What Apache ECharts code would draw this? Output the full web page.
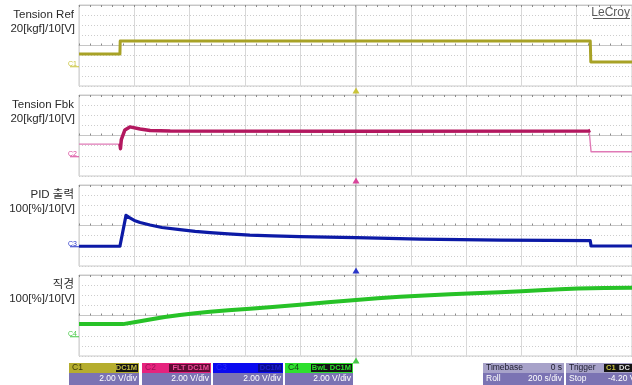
<!DOCTYPE html>
<html><head><meta charset="utf-8">
<script src="https://cdn.jsdelivr.net/npm/echarts@6/dist/echarts.min.js"></script>
<style>html,body{margin:0;padding:0;background:#fff;}#c{width:632px;height:385px;}</style>
</head><body><div id="c"></div>
<script>
// ---------- DATA (time in s, level in V above each channel's ground marker) ----------
const refT = [0, 148, 149, 1849, 1851, 2000];
const refV = [2.3, 2.3, 4.9, 4.9, 0.75, 0.75];

const fbkT = [0, 148, 150, 153, 166, 184, 221, 257, 330, 1000, 1845, 1849, 1852, 2000];
const fbkV = [2.3, 2.3, 1.4, 3.2, 5.1, 5.7, 5.3, 5.0, 4.9, 4.85, 4.9, 5.0, 0.8, 0.8];

const pidT = [0, 148, 170, 184, 200, 221, 257, 300, 365, 420, 474, 540, 618, 700, 799, 900, 1002, 1120, 1233, 1380, 1523, 1700, 1849, 1852, 2000];
const pidV = [-0.1, -0.1, 6.0, 5.5, 5.0, 4.6, 4.1, 3.6, 3.2, 2.85, 2.6, 2.35, 2.1, 1.95, 1.8, 1.7, 1.6, 1.45, 1.3, 1.2, 1.1, 1.05, 1.0, -0.05, -0.05];

const diaT = [0, 159, 200, 257, 310, 365, 420, 474, 540, 618, 700, 799, 900, 1002, 1080, 1161, 1250, 1342, 1430, 1523, 1600, 1667, 1740, 1805, 1900, 2000];
const diaV = [2.3, 2.3, 2.65, 3.2, 3.7, 4.1, 4.45, 4.75, 5.05, 5.35, 5.7, 6.1, 6.6, 7.05, 7.4, 7.7, 7.95, 8.2, 8.4, 8.6, 8.8, 9.0, 9.2, 9.35, 9.45, 9.5];

const panelTitles = ['Tension Ref', 'Tension Fbk', 'PID 출력', '직경'];
const panelScales = ['20[kgf]/10[V]', '20[kgf]/10[V]', '100[%]/10[V]', '100[%]/10[V]'];
const channelNames = ['C1', 'C2', 'C3', 'C4'];
const channelScale = ['2.00 V/div', '2.00 V/div', '2.00 V/div', '2.00 V/div'];
const channelBadges = ['DC1M', 'FLT DC1M', 'DC1M', 'BwL DC1M'];
const timebaseText = ['Timebase', '0 s', 'Roll', '200 s/div'];
const triggerText = ['Trigger', 'C1 DC', 'Stop', '-4.20 V'];

// ---------- LAYOUT / STYLE ----------
const V_PER_DIV = 2, GROUND_DIV = -2, GROUND_OFFSET = GROUND_DIV * V_PER_DIV;
const T_MAX = 2000, T_DIV = 200;
const GL = 79, GW = 554, GH = 81, PANEL_TOPS = [5, 95, 185, 275];
const traceColors = ['#a8a226', '#b3185f', '#0c1aa6', '#27c227'];
const markerColors = ['#c9c33a', '#d8449a', '#2a36c8', '#45c845'];
const FONT = '"Liberation Sans", Arial, "Noto Sans CJK KR", sans-serif';

function pts(T, V) { return T.map((t, i) => [t, V[i] + GROUND_OFFSET]); }

const grids = [], xAxes = [], yAxes = [], series = [];
PANEL_TOPS.forEach((top, i) => {
  grids.push({ left: GL, top: top, width: GW, height: GH, show: true, borderColor: '#cacaca', borderWidth: 1, backgroundColor: 'transparent' });
  const base = {
    gridIndex: i, type: 'value', min: 0, max: T_MAX, interval: T_DIV,
    axisLine: { show: true, onZero: true, lineStyle: { color: '#c6c6c6', width: 1 } },
    axisTick: { show: true, inside: true, length: 2, lineStyle: { color: '#8a8a8a' } },
    minorTick: { show: true, splitNumber: 5, length: 2, lineStyle: { color: '#8a8a8a' } },
    axisLabel: { show: false }
  };
  xAxes.push(Object.assign({}, base, { position: 'bottom', splitLine: { show: true, lineStyle: { color: '#d8d8d8', width: 1 } } }));
  xAxes.push(Object.assign({}, base, { position: 'top', splitLine: { show: false } }));
  yAxes.push({
    gridIndex: i, type: 'value', min: -4 * V_PER_DIV, max: 4 * V_PER_DIV, interval: V_PER_DIV,
    axisLine: { show: false }, axisTick: { show: false }, axisLabel: { show: false },
    splitLine: { show: true, lineStyle: { color: '#cdcdcd', type: [1, 2], width: 1 } }
  });
});

function line(i, data, color, width, smooth, z) {
  return { type: 'line', xAxisIndex: 2 * i, yAxisIndex: i, data: data, symbol: 'none', smooth: smooth || false,
    lineStyle: { color: color, width: width, join: 'round' }, itemStyle: { color: color }, z: z || 2, animation: false, silent: true };
}
series.push(line(0, pts(refT, refV), traceColors[0], 3));
series.push(line(1, pts(fbkT, fbkV), '#e07ab6', 1.4));
const fbkLoaded = pts(fbkT, fbkV).filter(p => p[0] >= 148 && p[0] <= 1849);
series.push(line(1, fbkLoaded, traceColors[1], 3.5, false, 3));
series.push(line(2, pts(pidT, pidV), traceColors[2], 3.2, false));
series.push(line(3, pts(diaT, diaV), traceColors[3], 4, false));

// ---------- DECORATION ----------
const g = [];
function txt(x, y, text, opt) {
  opt = opt || {};
  g.push({ type: 'text', z: 10, style: { x: x, y: y, text: text, fill: opt.color || '#222', align: opt.align || 'left',
    verticalAlign: 'middle', font: (opt.weight || 'normal') + ' ' + (opt.size || 11) + 'px ' + FONT } });
}
function rect(x, y, w, h, fill, z) { g.push({ type: 'rect', z: z || 5, shape: { x: x, y: y, width: w, height: h }, style: { fill: fill } }); }

const cx = GL + GW / 2;
g.push({ type: 'line', z: 1, shape: { x1: cx, y1: PANEL_TOPS[0], x2: cx, y2: PANEL_TOPS[3] + GH + 4 }, style: { stroke: '#b2b2b2', lineWidth: 1 } });

PANEL_TOPS.forEach((top, i) => {
  txt(74, top + 10, panelTitles[i], { align: 'right', size: 11.5, color: '#2a2a2a' });
  txt(75, top + 23.5, panelScales[i], { align: 'right', size: 11.5, color: '#2a2a2a' });
  const gy = top + GH - GH * (4 + GROUND_DIV) / 8; // ground pixel row
  txt(68, gy - 2, channelNames[i], { size: 7, color: markerColors[i] });
  g.push({ type: 'line', z: 10, shape: { x1: 70, y1: gy + 1, x2: 79, y2: gy + 1 }, style: { stroke: markerColors[i], lineWidth: 1 } });
  const by = top + GH + 1.5;
  g.push({ type: 'polygon', z: 10, shape: { points: [[cx - 3.5, by + 6], [cx + 3.5, by + 6], [cx, by]] }, style: { fill: markerColors[i] } });
});

txt(630, 12.5, 'LeCroy', { align: 'right', size: 12, color: '#5a5a5a' });
g.push({ type: 'line', z: 10, shape: { x1: 593, y1: 18.5, x2: 630, y2: 18.5 }, style: { stroke: '#5a5a5a', lineWidth: 1 } });

// bottom bar
const BT = 363, RH = 10, BH = 12, BOT = '#7b73b3';
const chBoxes = [
  { x: 69, w: 70, top: '#b5ad2e', lab: '#3b3a08', bx: 116, bw: 22, bbg: '#141414', bcol: '#c8c040' },
  { x: 142, w: 69, top: '#e6237e', lab: '#9e1056', bx: 169, bw: 41, bbg: '#5e0c34', bcol: '#ee4a98' },
  { x: 213, w: 70, top: '#0a0af0', lab: '#2a2af8', bx: 258, bw: 24, bbg: '#0a0a90', bcol: '#2020d0' },
  { x: 285, w: 68, top: '#2ee02e', lab: '#143c14', bx: 311, bw: 41, bbg: '#141414', bcol: '#2ee02e' }
];
chBoxes.forEach((b, i) => {
  rect(b.x, BT, b.w, RH, b.top);
  rect(b.x, BT + RH, b.w, BH, BOT);
  rect(b.bx, BT + 1, b.bw, RH - 2, b.bbg, 6);
  txt(b.x + 3, BT + 5, channelNames[i], { size: 8.5, color: b.lab });
  txt(b.bx + b.bw - 1, BT + 5, channelBadges[i], { size: 7.5, color: b.bcol, align: 'right', weight: 'bold' });
  txt(b.x + b.w - 2, BT + RH + 6, channelScale[i], { size: 8.5, color: '#ffffff', align: 'right' });
});
// timebase
rect(483, BT, 81, RH, '#a7a2c9'); rect(483, BT + RH, 81, BH, BOT);
txt(486, BT + 5, timebaseText[0], { size: 8.5, color: '#1c1c2c' });
txt(562, BT + 5, timebaseText[1], { size: 8.5, color: '#1c1c2c', align: 'right' });
txt(486, BT + RH + 6, timebaseText[2], { size: 8.5, color: '#ffffff' });
txt(562, BT + RH + 6, timebaseText[3], { size: 8.5, color: '#ffffff', align: 'right' });
// trigger
rect(566, BT, 70, RH, '#a7a2c9'); rect(566, BT + RH, 70, BH, BOT);
rect(604, BT + 1, 30, RH - 2, '#141414', 6);
txt(569, BT + 5, triggerText[0], { size: 8.5, color: '#1c1c2c' });
txt(606, BT + 5, triggerText[1].split(' ')[0], { size: 7.5, color: '#c8c040', weight: 'bold' });
txt(619, BT + 5, triggerText[1].split(' ')[1], { size: 7.5, color: '#e0e0e0', weight: 'bold' });
txt(569, BT + RH + 6, triggerText[2], { size: 8.5, color: '#ffffff' });
txt(608, BT + RH + 6, triggerText[3], { size: 8.5, color: '#ffffff' });

const chart = echarts.init(document.getElementById('c'), null, { renderer: 'canvas' });
chart.setOption({ animation: false, backgroundColor: '#ffffff', grid: grids, xAxis: xAxes, yAxis: yAxes, series: series, graphic: g });
</script></body></html>
